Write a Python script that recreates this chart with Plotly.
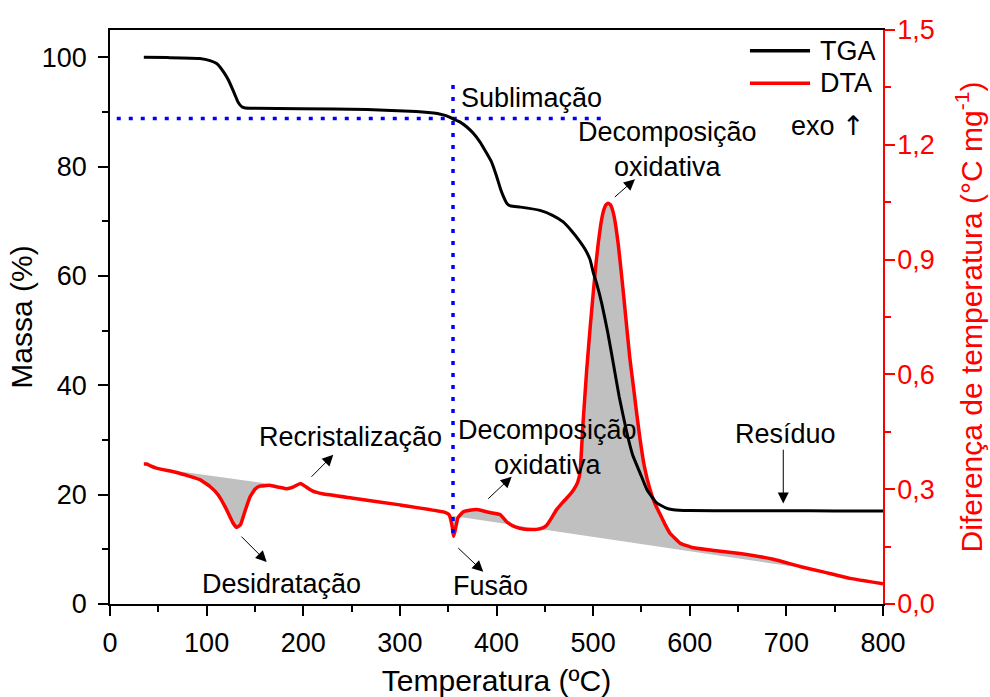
import plotly.graph_objects as go

# ---------------- data ----------------
tga_temp = [35, 60, 93, 103.5, 110, 114, 118, 122.4, 126, 129.4, 132, 134.5, 137, 140, 150,
            197, 266, 317, 335, 342, 348.5, 352, 355, 362, 369, 376, 383, 390, 395, 400,
            404, 407, 410, 412.3, 415, 425, 445, 458, 469, 478, 486.4, 492, 496.8, 500.2,
            503.7, 508.9, 515, 520.9, 527, 534.7, 541, 548.5, 556, 565.8, 575, 583, 600,
            650, 700, 750, 800]
tga_mass = [100.0, 99.95, 99.8, 99.4, 98.9, 98.2, 97.2, 95.9, 94.5, 93.1, 92.0, 91.3, 90.9, 90.75, 90.7,
            90.6, 90.45, 90.1, 89.8, 89.6, 89.3, 89.0, 88.75, 88.2, 87.3, 86.1, 84.5, 82.4, 80.8, 78.3,
            76.0, 74.6, 73.5, 73.0, 72.8, 72.6, 72.0, 71.1, 69.9, 68.2, 66.3, 64.8, 63.0, 60.6,
            58.6, 55.0, 49.8, 44.0, 37.9, 31.5, 27.2, 24.0, 20.8, 18.5, 17.6, 17.25, 17.1,
            17.07, 17.05, 17.03, 17.0]

dta_temp = [35, 38, 42, 48, 70, 93, 103.5, 112, 120, 127, 131, 135, 140, 145, 150, 155, 165,
            175, 183, 190, 197, 203, 210, 220, 250, 300, 346, 351, 354, 355.5, 357, 360, 365,
            372, 380, 393, 403.7, 410.5, 417, 424, 432, 441.6, 448, 452, 457, 462, 469, 475,
            479.6, 484, 486.5, 489.5, 493.3, 497, 500.2, 503, 505.4, 508, 510.5, 513, 515.5,
            518, 520.5, 523, 526, 529, 532, 535, 538, 541.6, 545, 548.5, 553, 558.8, 564,
            569.2, 574, 579.5, 590, 603.7, 625, 652, 686.5, 714, 738, 766, 800]
dta_val = [0.366, 0.366, 0.361, 0.355, 0.343, 0.325, 0.307, 0.285, 0.250, 0.213, 0.200, 0.207,
           0.245, 0.280, 0.300, 0.308, 0.310, 0.305, 0.301, 0.306, 0.315, 0.306, 0.295, 0.288,
           0.277, 0.259, 0.240, 0.233, 0.205, 0.177, 0.190, 0.225, 0.240, 0.245, 0.247, 0.239,
           0.234, 0.215, 0.204, 0.198, 0.195, 0.195, 0.199, 0.206, 0.225, 0.246, 0.267, 0.283,
           0.298, 0.318, 0.345, 0.470, 0.610, 0.725, 0.815, 0.890, 0.945, 0.993, 1.025, 1.042,
           1.047, 1.043, 1.026, 0.995, 0.940, 0.870, 0.795, 0.718, 0.642, 0.570, 0.500,
           0.432, 0.360, 0.300, 0.262, 0.235, 0.210, 0.185, 0.159, 0.147, 0.140, 0.132,
           0.117, 0.098, 0.084, 0.067, 0.053]

# baselines used for the shaded (integrated) DTA areas
base1_temp = [48, 172.5]
base1_val = [0.355, 0.311]
base2_temp = [352, 750]
base2_val = [0.231, 0.0815]

# sublimation onset guide lines
onset_temp = 355
onset_mass = 88.8
guide_h_temp = [7, 512]
guide_v_mass = [13.0, 96.2]

# legend / text
series_names = ["TGA", "DTA"]

FONT = "Liberation Sans, Arial, sans-serif"
GRAY = "#c0c0c0"
RED = "#ff0000"
BLUE = "#0000ff"


def area_polygon(temp, val, btemp, bval):
    xs = [t for t in temp if btemp[0] <= t <= btemp[1]]
    ys = [v for t, v in zip(temp, val) if btemp[0] <= t <= btemp[1]]
    return xs + [btemp[1], btemp[0], xs[0]], ys + [bval[1], bval[0], ys[0]]


fig = go.Figure()

for bt, bv in [(base1_temp, base1_val), (base2_temp, base2_val)]:
    px_, py_ = area_polygon(dta_temp, dta_val, bt, bv)
    fig.add_trace(go.Scatter(x=px_, y=py_, mode="lines", fill="toself",
                             fillcolor=GRAY, line=dict(width=0, color=GRAY),
                             hoverinfo="skip", showlegend=False, yaxis="y"))

fig.add_trace(go.Scatter(x=dta_temp, y=dta_val, mode="lines", name=series_names[1],
                         line=dict(color=RED, width=3.5, shape="spline", smoothing=0.3),
                         showlegend=False, yaxis="y"))

# guides (in mass coordinates)
fig.add_trace(go.Scatter(x=guide_h_temp, y=[onset_mass, onset_mass], mode="lines",
                         line=dict(color=BLUE, width=3.5, dash="4px,8px"),
                         hoverinfo="skip", showlegend=False, yaxis="y2"))
fig.add_trace(go.Scatter(x=[onset_temp, onset_temp], y=guide_v_mass, mode="lines",
                         line=dict(color=BLUE, width=3.5, dash="4px,8px"),
                         hoverinfo="skip", showlegend=False, yaxis="y2"))

fig.add_trace(go.Scatter(x=tga_temp, y=tga_mass, mode="lines", name=series_names[0],
                         line=dict(color="black", width=3, shape="spline", smoothing=0.4),
                         showlegend=False, yaxis="y2"))

# ---------------- annotations ----------------
ann = []
TXT = dict(size=27, color="black", family=FONT)


def label(x, y, text, xanchor="center"):
    ann.append(dict(x=x, y=y, xref="x", yref="y2", text=text, showarrow=False,
                    font=TXT, xanchor=xanchor, yanchor="middle"))


def arrow(hx, hy, tx, ty):
    ann.append(dict(x=hx, y=hy, ax=tx, ay=ty, xref="x", yref="y2", axref="x", ayref="y2",
                    text="", showarrow=True, arrowhead=2, arrowsize=2.2, arrowwidth=1,
                    arrowcolor="black"))


label(435.7, 92.6, "Sublimação")
label(577, 83.2, "Decomposição<br>oxidativa")
label(249.4, 30.5, "Recristalização")
label(177, 3.7, "Desidratação")
label(394.3, 3.3, "Fusão")
label(452.8, 28.7, "Decomposição<br>oxidativa")
label(699.6, 31.1, "Resíduo")
label(783.4, 87.6, "exo <span style=\"font-family:'DejaVu Sans'\">↑</span>", xanchor="right")

arrow(543.3, 77.7, 520.9, 74.2)
arrow(231.1, 27.3, 207.0, 23.0)
arrow(162.2, 7.7, 134.5, 12.6)
arrow(386.3, 5.9, 358.8, 10.5)
arrow(415.7, 23.3, 389.9, 19.0)
arrow(696.8, 18.4, 696.8, 28.5)

# manual legend
leg_y = [101.2, 95.25]
leg_col = ["black", RED]
shapes = []
for nm, yy, cc in zip(series_names, leg_y, leg_col):
    shapes.append(dict(type="line", xref="x", yref="y2", x0=662.3, x1=724.5, y0=yy, y1=yy,
                       line=dict(color=cc, width=3.5)))
    ann.append(dict(x=732.7, y=yy, xref="x", yref="y2", text=nm, showarrow=False,
                    font=TXT, xanchor="left", yanchor="middle"))

fig.update_layout(
    width=990, height=697,
    margin=dict(l=110, r=107, t=30, b=93, autoexpand=False),
    paper_bgcolor="white", plot_bgcolor="white",
    font=dict(family=FONT, size=27, color="black"),
    separators=",.",
    showlegend=False,
    annotations=ann,
    shapes=shapes,
    xaxis=dict(range=[0, 800], dtick=100, tick0=0, showgrid=False, zeroline=False,
               automargin=False,
               showline=True, linecolor="black", linewidth=1.5, mirror=True,
               ticks="outside", ticklen=10, tickwidth=1.5, tickcolor="black",
               minor=dict(dtick=50, ticks="outside", ticklen=6, tickwidth=1.5, tickcolor="black"),
               tickfont=dict(size=27), ticklabelstandoff=4,
               title=dict(text="Temperatura (ºC)", font=dict(size=30), standoff=13)),
    yaxis=dict(range=[0, 1.5], dtick=0.3, tick0=0, tickformat=".1f", side="right",
               automargin=False,
               showgrid=False, zeroline=False, showline=True, linecolor=RED, linewidth=1.5,
               ticks="outside", ticklen=10, tickwidth=1.5, tickcolor=RED,
               minor=dict(dtick=0.15, ticks="outside", ticklen=6, tickwidth=1.5, tickcolor=RED),
               tickfont=dict(size=27, color=RED), ticklabelstandoff=-3,
               title=dict(text="Diferença de temperatura (°C mg<sup>-1</sup>)",
                          font=dict(size=30, color=RED), standoff=27)),
    yaxis2=dict(range=[0, 105], dtick=20, tick0=0, overlaying="y", side="left",
                automargin=False,
                showgrid=False, zeroline=False, showline=True, linecolor="black", linewidth=1.5,
                ticks="outside", ticklen=10, tickwidth=1.5, tickcolor="black",
                minor=dict(dtick=10, ticks="outside", ticklen=6, tickwidth=1.5, tickcolor="black"),
                tickfont=dict(size=27), ticklabelstandoff=6,
                title=dict(text="Massa (%)", font=dict(size=30), standoff=0)),
)

fig.write_html("out.html")
